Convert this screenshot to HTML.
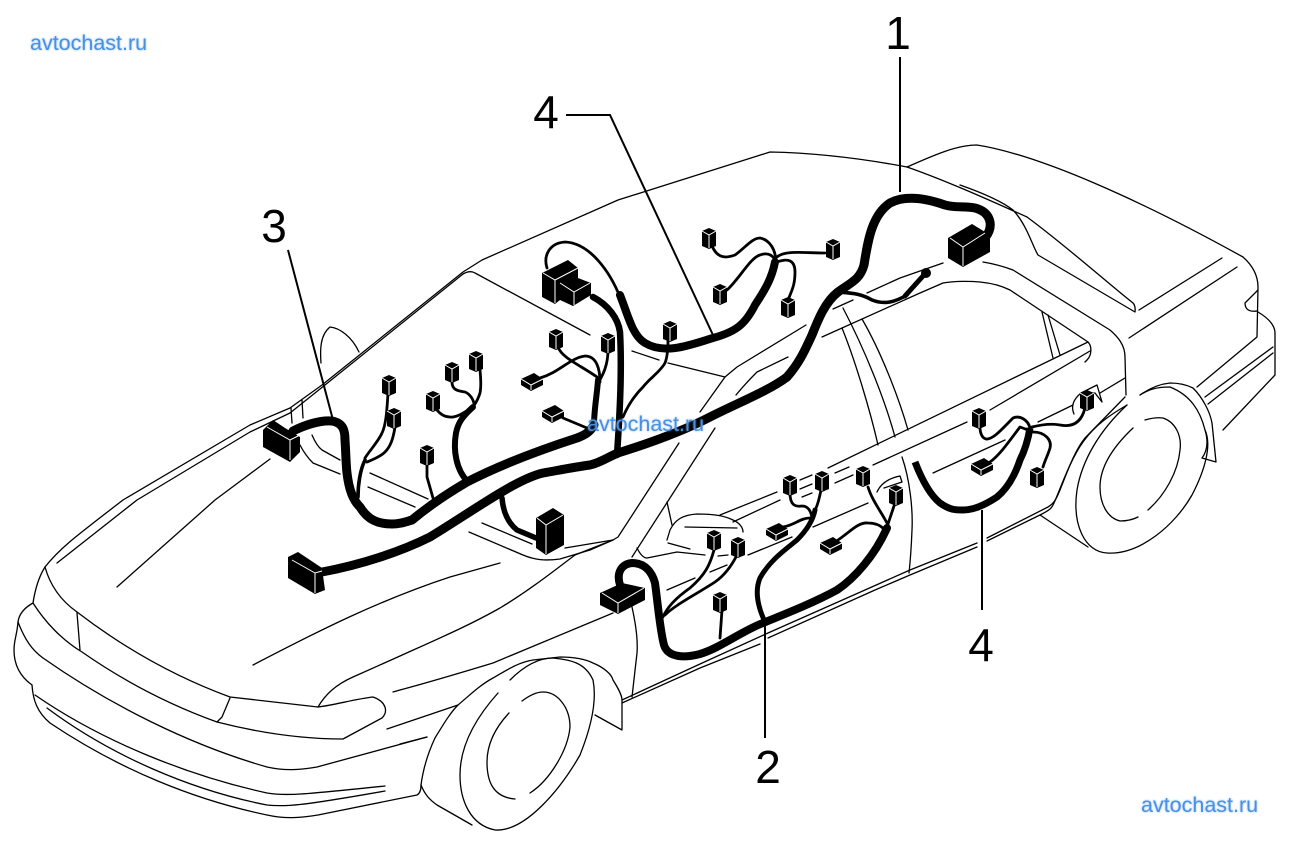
<!DOCTYPE html>
<html><head><meta charset="utf-8"><style>
html,body{margin:0;padding:0;background:#fff;width:1290px;height:848px;overflow:hidden}
svg{display:block}
.l{fill:none;stroke:#000;stroke-width:1.3;stroke-linecap:round;stroke-linejoin:round}
.w{fill:none;stroke:#000;stroke-width:2.8;stroke-linecap:round;stroke-linejoin:round}
.m{fill:none;stroke:#000;stroke-width:3.6;stroke-linecap:round;stroke-linejoin:round}
.h{fill:none;stroke:#000;stroke-width:7;stroke-linecap:round;stroke-linejoin:round}
.ld{fill:none;stroke:#000;stroke-width:2;stroke-linecap:butt;stroke-linejoin:miter}
.n{font:46px "Liberation Sans",sans-serif;fill:#000;text-anchor:middle}
.a{font:21.5px "Liberation Sans",sans-serif;fill:#4a90e2;text-shadow:0 0 2px rgba(110,170,240,.8)}
.wl{fill:none;stroke:#fff;stroke-width:1}
</style></head><body>
<svg width="1290" height="848" viewBox="0 0 1290 848" xmlns="http://www.w3.org/2000/svg">
<defs>
<g id="c"><polygon points="-7,-7 0,-10 7,-7 7,8 0,11 -7,8" fill="#000"/><path d="M-7,-7 L0,-3 L7,-7 M0,-3 L0,10" class="wl"/></g>
<g id="d"><polygon points="-11,-2 2,-8 11,-2 11,4 -1,10 -11,4" fill="#000"/><path d="M-11,-2 L-1,4 L11,-2 M-1,4 L-1,9" class="wl"/></g>
</defs>

<!-- front end -->
<path class="l" d="M45,567 C50,585 60,600 77,612 C120,645 170,675 230,697 L318,707"/>
<path class="l" d="M45,567 C60,548 75,537 123,500 L250,425 L290,408 L322,385 L463,272 L482,260 L618,200 L770,152 C820,153 870,160 907,167"/>
<path class="l" d="M57,563 L137,500 L250,432 L290,413 L325,385 L463,274 Q470,270 475,273 L590,335"/>
<path class="l" d="M291,408 L292,423 M302,400 L303,418"/>
<path class="l" d="M117,587 L215,500 L270,459"/>
<path class="l" d="M45,567 C38,578 35,590 33,603 C24,608 19,614 18,622 C17,635 14,640 14,650 C14,662 18,675 32,685"/>
<path class="l" d="M33,603 C45,622 62,640 82,652 C125,682 170,705 217,722 C260,733 300,739 343,739 L382,718 C388,712 387,702 373,697 C355,699 335,705 318,707"/>
<path class="l" d="M77,613 L80,650"/>
<path class="l" d="M230,698 L222,717 L217,722"/>
<path class="l" d="M18,622 C25,640 32,650 43,658 C110,705 190,745 267,767 C285,771 300,770 317,767 L427,737"/>
<path class="l" d="M32,685 C33,700 37,712 50,723 C120,770 195,800 267,815 C285,819 300,818 318,815 L417,795 Q421,793 421,785"/>
<path class="l" d="M35,695 C100,740 185,775 267,793 C285,796 300,795 385,786"/>
<path class="l" d="M47,708 C110,755 190,790 267,805 C285,807 300,806 385,791"/>
<path class="l" d="M318,707 C325,695 335,685 353,677 L400,656 C440,638 470,625 500,608 C530,590 555,570 575,555 L613,540 L618,537 L679,443"/>
<path class="l" d="M253,665 C320,630 380,600 450,577 L500,563"/>
<path class="l" d="M393,692 L400,690 C430,682 460,673 493,663 L613,613"/>
<path class="l" d="M387,729 L458,705"/>
<path class="l" d="M400,744 L427,737"/>
<!-- front wheel -->
<path class="l" d="M421,785 C423,770 427,755 435,738 C443,725 450,713 458,705 C470,695 480,685 493,678 C510,668 520,662 533,660 L560,657 C575,657 585,659 593,663 C605,668 612,675 613,680 C618,688 622,695 622,700 L622,730 L595,715"/>
<path class="l" d="M498,693 C472,722 460,750 460,775 C460,800 470,825 495,830 C525,832 560,790 580,755 C592,725 597,700 593,680 C585,662 570,660 553,658 C535,658 520,670 510,680"/>
<path class="l" d="M509,713 C495,728 487,745 487,762 C487,780 492,797 515,799"/>
<path class="l" d="M522,701 C530,695 537,692 543,692 C558,692 570,708 570,727 C568,750 550,780 530,793"/>
<path class="l" d="M421,785 C425,795 430,800 437,805 L472,825"/>
<path class="l" d="M632,607 C636,625 638,640 637,653 L632,697"/>
<path class="l" d="M622,700 L700,664 L768,633 L865,590 L910,570 L977,543 M987,538 L1048,507 C1055,503 1057,497 1060,490 C1068,470 1075,450 1085,438 L1125,397"/>
<path class="l" d="M622,703 L700,668 L760,644 M768,638 L875,590 L910,575 L977,547 M987,541 L1040,515 C1050,510 1052,508 1054,503 C1060,490 1070,460 1083,442 C1095,425 1110,415 1127,405"/>
<!-- cowl / wiper -->
<path class="l" d="M300,445 C305,455 310,460 313,463 L340,474"/>
<path class="l" d="M312,435 C315,442 318,447 322,450 L340,460"/>
<path class="l" d="M370,473 L428,499 M368,487 L415,507"/>
<path class="l" d="M482,523 L532,544"/>
<path class="l" d="M469,532 L523,555 C535,560 545,561 560,559 L590,550 L613,540"/>
<path class="l" d="M565,548 L613,540"/>
<path class="l" d="M321,363 C320,350 320,335 330,327 C340,328 352,337 359,352"/>
<!-- windshield right & side glass -->
<path class="l" d="M632,351 L659,360 M668,363 L725,377"/>
<path class="l" d="M700,412 L725,377 L737,367 L806,325"/>
<path class="l" d="M736,395 Q745,384 757,372 L788,357"/>
<path class="l" d="M715,428 L632,557"/>
<path class="l" d="M822,337 L920,293 L943,283 C955,281 970,281 980,282 C990,283 1000,285 1010,290 L1088,342 C1092,346 1092,355 1087,360 L1085,362"/>
<path class="l" d="M833,309 L853,300 M867,293 L900,278 L943,263"/>
<path class="l" d="M1042,312 L1053,358 M1048,315 L1060,355"/>
<path class="l" d="M842,328 C855,360 870,410 878,445"/>
<path class="l" d="M843,308 C865,350 885,400 895,437"/>
<path class="l" d="M862,319 C880,350 898,395 908,430"/>
<path class="l" d="M902,457 C910,480 913,510 912,530 Q911,555 909,573"/>
<!-- door belt lines -->
<path class="l" d="M828,468 L1088,342"/>
<path class="l" d="M873,465 L967,422 M990,410 L1090,351"/>
<path class="l" d="M835,473 L849,467 M835,483 L853,475 M800,480 L812,475 M800,489 L812,484 M802,497 L812,493"/>
<path class="l" d="M720,515 L777,492 M733,522 L780,500 M748,555 L792,537 M813,527 L868,503"/>
<path class="l" d="M933,473 L1005,440 M1038,422 L1073,405 M1100,393 L1125,378"/>
<path class="l" d="M667,590 L695,578 M710,572 L727,565"/>
<path class="l" d="M877,492 C881,483 890,478 900,476 L902,482 L884,488"/>
<!-- mirror -->
<path class="l" d="M667,540 L670,530 C675,520 682,515 697,514 C715,514 725,516 733,520 C740,523 743,528 743,532 M668,543 L690,549 M685,527 L737,528 M637,548 C640,554 643,558 647,558 L677,552 L705,555 M718,556 L728,555"/>
<path class="l" d="M667,502 L672,525"/>
<!-- rear body -->
<path class="l" d="M907,167 C930,157 955,145 977,145 C1040,155 1140,200 1243,257 C1252,265 1258,275 1258,287 L1257,337 L1197,387"/>
<path class="l" d="M907,167 C950,182 1000,205 1027,217 C1065,245 1110,285 1133,303 C1136,306 1135,312 1135,312 L1038,255 C1032,245 1027,225 1013,210 C1000,200 980,192 960,185"/>
<path class="l" d="M1139,310 L1222,258 M1129,338 L1237,267"/>
<path class="l" d="M1258,290 L1245,303 C1245,310 1250,312 1257,311"/>
<path class="l" d="M1258,312 C1268,318 1275,325 1275,333 L1275,375 L1223,430"/>
<path class="l" d="M1273,347 L1205,397 M1273,353 L1208,404"/>
<path class="l" d="M983,262 C995,264 1005,267 1013,270 L1110,330 C1118,337 1125,345 1125,357 L1126,395"/>
<!-- rear wheel -->
<path class="l" d="M1140,395 C1150,388 1160,384 1170,383 C1180,383 1187,385 1193,388 C1203,398 1210,412 1212,423 L1216,462 L1202,458 C1208,450 1208,440 1205,430"/>
<path class="l" d="M1127,405 C1100,430 1082,460 1077,490 C1072,525 1085,552 1107,553 C1140,555 1175,525 1192,495 C1205,470 1212,445 1205,430 C1200,410 1190,395 1170,387 C1155,387 1148,390 1140,395"/>
<path class="l" d="M1133,428 C1115,445 1100,465 1100,487 C1100,505 1108,518 1120,521 Q1130,521 1138,517"/>
<path class="l" d="M1145,420 Q1155,417 1163,418 C1175,422 1182,435 1180,450 C1178,472 1165,495 1148,510"/>
<path class="l" d="M1040,515 L1088,547"/>
<!-- rear handle -->
<path class="l" d="M1074,414 C1070,405 1075,398 1081,393 L1097,385 L1102,402 L1095,393 L1088,393"/>

<!-- leader lines -->
<path class="ld" d="M900,57 L900,192"/>
<path class="ld" d="M566,115 L610,115 L713,335"/>
<path class="ld" d="M288,250 L333,420"/>
<path class="ld" d="M765,622 L765,738"/>
<path class="ld" d="M982,510 L982,610"/>

<!-- harness 1 -->
<path class="h" style="stroke-width:9" d="M322,572 C360,565 400,552 430,537 C450,525 475,508 500,493 C515,484 530,476 543,473 C560,470 575,467 590,465 C600,463 610,456 618,453 C650,443 685,430 710,417 C740,402 770,390 787,377 C800,362 805,350 812,335 C818,320 825,302 838,292 C850,283 860,280 864,265 C868,240 872,215 890,203 C905,195 925,198 945,205 C955,208 965,206 975,208 C990,212 995,225 985,238"/>
<path class="m" d="M838,292 C850,293 860,293 872,300 C885,305 895,302 907,295"/>
<path class="m" style="stroke-width:5" d="M905,296 L923,276"/>
<circle cx="926" cy="273" r="5" fill="#000"/>
<polygon points="948,238 972,224 990,235 990,252 963,267 948,258" fill="#000"/>
<path class="wl" d="M950,238 L963,247 L985,233 M963,247 L963,266"/>

<!-- bottom connector of 1 -->
<polygon points="288,557 298,552 322,568 325,590 315,594 288,578" fill="#000"/>
<path class="wl" d="M292,560 L315,573 L322,571 M315,573 L315,593"/>

<!-- harness 3 -->
<path class="h" style="stroke-width:9" d="M293,431 C305,425 320,420 332,421 C343,423 345,430 345,440 C346,455 346,465 347,473 C349,490 353,500 360,507 C368,520 378,524 392,524 C400,524 405,522 412,520 C430,505 450,492 467,482 C500,465 540,450 577,438 C585,435 590,432 594,425"/>
<path class="m" style="stroke-width:6" d="M594,425 C594,410 597,395 598,380"/>
<polygon points="263,430 273,420 285,428 300,437 300,452 290,462 263,447" fill="#000"/>
<path class="wl" d="M267,427 L290,440 L300,435 M290,440 L290,460"/>
<path class="m" d="M365,460 C360,470 358,485 358,497"/>
<path class="w" d="M388,393 C387,410 386,425 382,433 C378,442 370,450 365,458"/>
<path class="w" d="M395,427 C393,440 390,447 385,452 C380,457 372,460 367,462"/>
<path class="w" d="M452,382 C452,390 458,391 465,392 C470,394 474,400 474,405"/>
<path class="w" d="M480,370 C481,380 481,388 480,393 C478,400 475,404 473,407"/>
<path class="w" d="M437,410 C441,415 446,417 450,417 C456,418 466,412 472,407"/>
<path class="h" style="stroke-width:6" d="M473,407 C462,417 458,423 456,433 C453,450 456,470 468,482"/>
<path class="w" d="M427,463 L427,477 L433,498"/>
<use href="#c" x="389" y="385"/><use href="#c" x="394" y="418"/><use href="#c" x="452" y="372"/>
<use href="#c" x="476" y="361"/><use href="#c" x="433" y="401"/><use href="#c" x="427" y="455"/>
<path class="w" d="M558,347 C562,358 580,365 597,377"/>
<path class="w" d="M608,350 C608,365 603,375 598,383"/>
<path class="w" d="M540,378 C560,372 570,358 585,356 C597,356 600,370 600,382"/>
<path class="w" d="M563,418 L587,428"/>
<use href="#c" x="556" y="339"/><use href="#c" x="608" y="343"/><use href="#d" x="532" y="381"/><use href="#d" x="553" y="413"/>

<!-- center trunk harness -->
<path class="h" style="stroke-width:6.5" d="M593,297 C608,305 618,318 620,332 C622,370 620,410 617,455"/>
<path class="w" d="M547,268 C543,255 550,243 565,242 C590,243 610,272 620,297"/>
<path class="h" style="stroke-width:8" d="M620,295 C628,315 632,335 645,343 C665,355 690,345 713,338 C735,332 745,325 755,305 C765,290 772,278 775,262"/>
<polygon points="542,273 568,260 578,268 578,278 591,283 591,295 573,306 560,300 555,304 542,297" fill="#000"/>
<path class="wl" d="M543,273 L555,280 L578,268 M555,280 L555,303 M560,283 L574,292 L590,283 M574,292 L574,305"/>
<path class="w" d="M668,340 C668,350 667,358 665,363 C660,372 650,378 643,387 C635,395 628,405 623,417"/>
<use href="#c" x="670" y="331"/>
<path class="w" d="M727,290 C740,278 750,258 760,255 C768,252 775,255 776,265"/>
<path class="w" d="M712,246 C716,255 722,260 735,255 C745,248 752,238 760,238 C770,240 776,250 776,263"/>
<path class="w" d="M777,257 C785,250 805,253 825,253"/>
<path class="w" d="M777,262 C788,258 795,260 795,272 C795,285 792,290 788,300"/>
<use href="#c" x="709" y="238"/><use href="#c" x="720" y="294"/><use href="#c" x="833" y="249"/><use href="#c" x="788" y="307"/>
<path class="w" style="stroke-width:5.5" d="M502,498 C503,510 507,522 517,530 L536,538"/>
<polygon points="536,518 553,508 564,515 564,545 546,555 536,548" fill="#000"/>
<path class="wl" d="M537,518 L546,525 L563,515 M546,525 L546,554"/>

<!-- harness 2 -->
<path class="h" style="stroke-width:8" d="M620,585 C616,572 622,564 632,563 C645,563 652,572 655,583 C658,605 660,630 664,645 C668,658 685,658 700,654 C720,648 740,632 763,623 C790,612 815,602 837,590 C855,578 875,555 887,528"/>
<polygon points="600,593 622,583 645,588 645,600 618,614 600,605" fill="#000"/>
<path class="wl" d="M602,593 L618,603 L644,588 M618,603 L618,613"/>
<path class="w" d="M663,617 C668,605 680,595 690,588 C705,575 710,565 714,550"/>
<path class="w" d="M665,615 C675,605 695,595 715,582 C725,575 732,565 737,555"/>
<path class="w" d="M722,610 L720,638"/>
<path class="h" style="stroke-width:5" d="M765,622 C757,605 755,590 760,578 C770,560 785,550 797,540 C807,530 813,520 815,510"/>
<path class="w" d="M815,510 C818,505 820,495 821,490"/>
<path class="w" d="M790,493 C790,505 795,507 802,506 C810,506 812,515 812,520"/>
<path class="w" d="M783,527 C795,525 800,518 810,518"/>
<path class="w" d="M868,487 C872,500 880,510 887,523"/>
<path class="w" d="M895,503 L887,527"/>
<path class="w" d="M838,540 C850,532 858,522 868,523 C875,523 880,525 884,529"/>
<use href="#c" x="714" y="540"/><use href="#c" x="738" y="547"/><use href="#c" x="720" y="602"/>
<use href="#c" x="790" y="485"/><use href="#c" x="822" y="481"/><use href="#d" x="777" y="531"/>
<use href="#c" x="863" y="476"/><use href="#c" x="896" y="495"/><use href="#d" x="831" y="545"/>

<!-- harness 4 right -->
<path class="h" style="stroke-width:7;stroke-linecap:butt" d="M915,462 C922,480 930,495 940,503 C950,510 955,510 963,510 C975,510 988,503 997,497 C1008,488 1015,475 1020,460 C1025,450 1028,440 1030,428"/>
<path class="w" d="M980,427 C980,433 982,438 986,439 C993,440 1003,428 1013,418 C1020,415 1028,420 1030,428"/>
<path class="w" d="M990,462 C1000,455 1010,440 1020,427 L1028,430"/>
<path class="w" d="M1033,432 C1045,432 1052,440 1050,448 C1048,455 1045,460 1043,467"/>
<path class="w" d="M1032,427 C1040,425 1050,423 1060,425 C1075,428 1082,420 1085,408"/>
<use href="#c" x="979" y="418"/><use href="#d" x="982" y="466"/><use href="#c" x="1037" y="477"/><use href="#c" x="1087" y="400"/>

<!-- numbers -->
<text class="n" x="898" y="49">1</text>
<text class="n" x="546" y="128">4</text>
<text class="n" x="274" y="242">3</text>
<text class="n" x="768" y="783">2</text>
<text class="n" x="981" y="661">4</text>

<!-- watermarks -->
<text class="a" x="30" y="50">avtochast.ru</text>
<text class="a" x="587" y="431">avtochast.ru</text>
<text class="a" x="1141" y="812">avtochast.ru</text>
</svg>
</body></html>
